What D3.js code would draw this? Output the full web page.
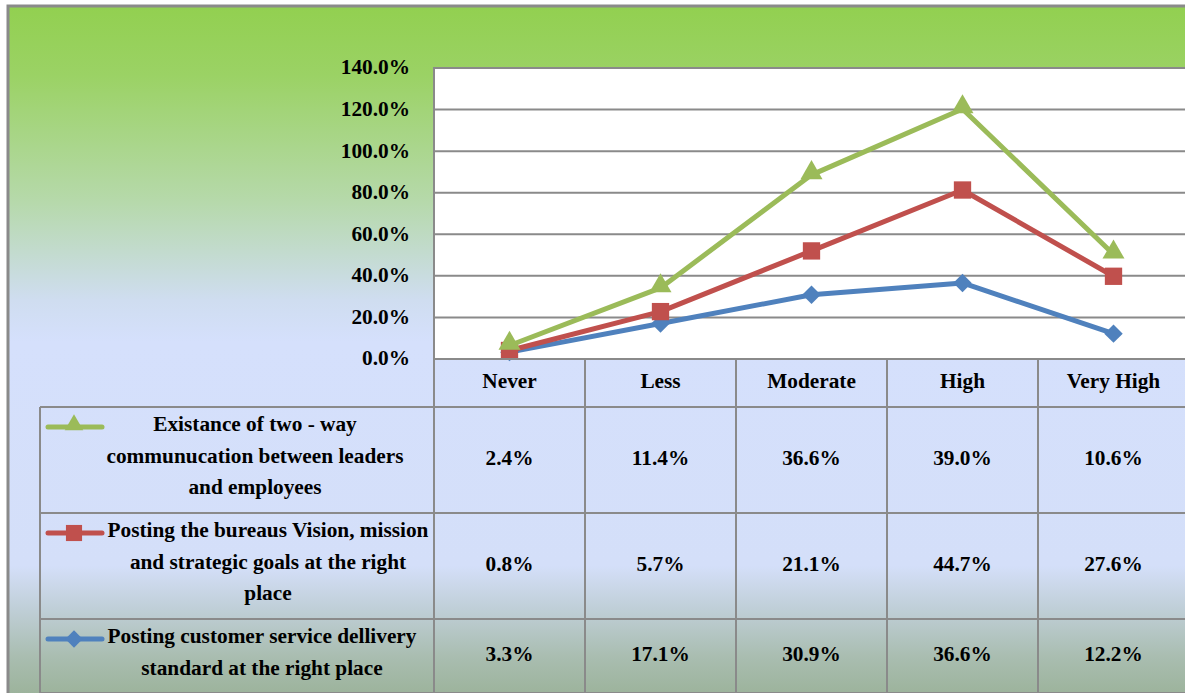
<!DOCTYPE html>
<html>
<head>
<meta charset="utf-8">
<script src="https://cdn.jsdelivr.net/npm/d3@7"></script>
<style>
  html, body { margin: 0; padding: 0; background: #fff; }
  svg { display: block; font-family: "Liberation Serif", "Times New Roman", serif; font-weight: bold; }
</style>
</head>
<body>
<div id="chart"></div>
<script>
const width = 1185;
const height = 693;

// data
const categories = ["Never", "Less", "Moderate", "High", "Very High"];
const seriesNames = [
  ["Existance of two - way", "communucation between leaders", "and employees"],
  ["Posting the bureaus Vision, mission", "and strategic goals at the right", "place"],
  ["Posting customer service dellivery", "standard at the right place"]
];
const twoWay = [2.4, 11.4, 36.6, 39.0, 10.6];
const vision = [0.8, 5.7, 21.1, 44.7, 27.6];
const delivery = [3.3, 17.1, 30.9, 36.6, 12.2];
const yTicks = [0, 0.2, 0.4, 0.6, 0.8, 1.0, 1.2, 1.4];

const colors = ["#9bbb59", "#c0504d", "#4f81bd"];
const markers = ["triangle", "square", "diamond"];

// layout
const plotLeft = 434, plotRight = 1189, plotTop = 68, plotBottom = 359;
const tableLeft = 40;
const headerBottom = 407;
const rowHeights = [106, 106, 74];
const textCenters = [255, 268, 262];
const lineGap = 31.5;
const fontSize = "21.3px";

const svg = d3.select("#chart").append("svg")
  .attr("width", width)
  .attr("height", height);

const defs = svg.append("defs");
const grad = defs.append("linearGradient")
  .attr("id", "bg")
  .attr("x1", 0).attr("y1", 0).attr("x2", 0).attr("y2", 1);
[[0, "#92d050"], [0.1, "#9bd265"], [0.28, "#b6d9ab"], [0.42, "#cfddf0"], [0.48, "#d5e0fc"],
 [0.8, "#d4dff9"], [0.86, "#c0cfd8"], [0.93, "#a9bdb0"], [1, "#98b095"]]
  .forEach(s => grad.append("stop").attr("offset", s[0]).attr("stop-color", s[1]));

// chart frame
svg.append("rect")
  .attr("x", 8).attr("y", 6)
  .attr("width", 1200).attr("height", 700)
  .attr("fill", "url(#bg)")
  .attr("stroke", "#8a8a8a")
  .attr("stroke-width", 3);

const x = d3.scaleBand().domain(categories).range([plotLeft, plotRight]);
const y = d3.scaleLinear().domain([0, 1.4]).range([plotBottom, plotTop]);

// plot area
svg.append("rect")
  .attr("x", plotLeft).attr("y", plotTop)
  .attr("width", plotRight - plotLeft).attr("height", plotBottom - plotTop)
  .attr("fill", "#fff")
  .attr("stroke", "#8a8a8a")
  .attr("stroke-width", 2);

svg.append("g").selectAll("line").data(yTicks).enter().append("line")
  .attr("x1", plotLeft).attr("x2", plotRight)
  .attr("y1", d => y(d)).attr("y2", d => y(d))
  .attr("stroke", "#8a8a8a")
  .attr("stroke-width", 2);

svg.append("g").selectAll("text").data(yTicks).enter().append("text")
  .attr("x", 410)
  .attr("y", d => y(d) - 1)
  .attr("dy", "0.35em")
  .attr("text-anchor", "end")
  .style("font-size", fontSize)
  .text(d => d3.format(".1%")(d));

// stacked series: bottom = delivery, then vision, then two-way
const rows = categories.map((c, i) => ({ cat: c, delivery: delivery[i] / 100, vision: vision[i] / 100, twoWay: twoWay[i] / 100 }));
const stack = d3.stack().keys(["delivery", "vision", "twoWay"])(rows);

const line = d3.line()
  .x((d, i) => x(categories[i]) + x.bandwidth() / 2)
  .y(d => y(d[1]));

// square rotated 45 degrees, like the Excel diamond marker
const diamond = {
  draw(ctx, size) {
    const r = Math.sqrt(size / 2);
    ctx.moveTo(0, -r); ctx.lineTo(r, 0); ctx.lineTo(0, r); ctx.lineTo(-r, 0); ctx.closePath();
  }
};

const symbolOf = {
  triangle: d3.symbol().type(d3.symbolTriangle).size(210),
  square: d3.symbol().type(d3.symbolSquare).size(300),
  diamond: d3.symbol().type(diamond).size(170)
};
const legendSymbol = {
  triangle: d3.symbol().type(d3.symbolTriangle).size(150),
  square: d3.symbol().type(d3.symbolSquare).size(260),
  diamond: d3.symbol().type(diamond).size(150)
};

// draw order: blue, red, green (green on top)
stack.forEach((s, k) => {
  const si = 2 - k; // index into colors / legend
  const g = svg.append("g");
  g.append("path")
    .datum(s)
    .attr("d", line)
    .attr("fill", "none")
    .attr("stroke", colors[si])
    .attr("stroke-width", 5)
    .attr("stroke-linejoin", "round");
  g.selectAll("path.m").data(s).enter().append("path")
    .attr("class", "m")
    .attr("d", symbolOf[markers[si]])
    .attr("transform", (d, i) => "translate(" + (x(categories[i]) + x.bandwidth() / 2) + "," + (y(d[1]) + (si === 0 ? -2 : 0)) + ")")
    .attr("fill", colors[si]);
});

// data table
const tbl = svg.append("g");
const rowTops = [headerBottom];
rowHeights.forEach((h, i) => rowTops.push(rowTops[i] + h));
const gridColor = "#8a8a8a";

// header row
tbl.append("line").attr("x1", plotLeft).attr("x2", plotRight).attr("y1", plotBottom).attr("y2", plotBottom)
  .attr("stroke", gridColor).attr("stroke-width", 2);
rowTops.forEach(t => {
  tbl.append("line").attr("x1", tableLeft).attr("x2", plotRight).attr("y1", t).attr("y2", t)
    .attr("stroke", gridColor).attr("stroke-width", 2);
});
tbl.append("line").attr("x1", tableLeft).attr("x2", tableLeft).attr("y1", headerBottom).attr("y2", height + 20)
  .attr("stroke", gridColor).attr("stroke-width", 2);
tbl.selectAll("line.v").data(categories.concat(["end"])).enter().append("line")
  .attr("class", "v")
  .attr("x1", (d, i) => plotLeft + i * x.bandwidth())
  .attr("x2", (d, i) => plotLeft + i * x.bandwidth())
  .attr("y1", plotBottom).attr("y2", height + 20)
  .attr("stroke", gridColor).attr("stroke-width", 2);

tbl.selectAll("text.cat").data(categories).enter().append("text")
  .attr("class", "cat")
  .attr("x", d => x(d) + x.bandwidth() / 2)
  .attr("y", 381)
  .attr("dy", "0.35em")
  .attr("text-anchor", "middle")
  .style("font-size", fontSize)
  .text(d => d);

const tableValues = [twoWay, vision, delivery];
tableValues.forEach((vals, r) => {
  const top = rowTops[r];
  const mid = top + rowHeights[r] / 2;
  tbl.selectAll("text.v" + r).data(vals).enter().append("text")
    .attr("x", (d, i) => x(categories[i]) + x.bandwidth() / 2)
    .attr("y", mid - 2)
    .attr("dy", "0.35em")
    .attr("text-anchor", "middle")
    .style("font-size", fontSize)
    .text(d => d.toFixed(1) + "%");

  // legend label
  seriesNames[r].forEach((ln, j) => {
    tbl.append("text")
      .attr("x", textCenters[r])
      .attr("y", top + 17 + j * lineGap)
      .attr("dy", "0.35em")
      .attr("text-anchor", "middle")
      .style("font-size", fontSize)
      .text(ln);
  });

  // legend key
  const ky = top + 20;
  tbl.append("line")
    .attr("x1", 48).attr("x2", 102).attr("y1", ky).attr("y2", ky)
    .attr("stroke", colors[r]).attr("stroke-width", 5)
    .attr("stroke-linecap", "round");
  tbl.append("path")
    .attr("d", legendSymbol[markers[r]])
    .attr("transform", "translate(74," + (ky + (r === 0 ? -2 : 0)) + ")")
    .attr("fill", colors[r]);
});
</script>
</body>
</html>
